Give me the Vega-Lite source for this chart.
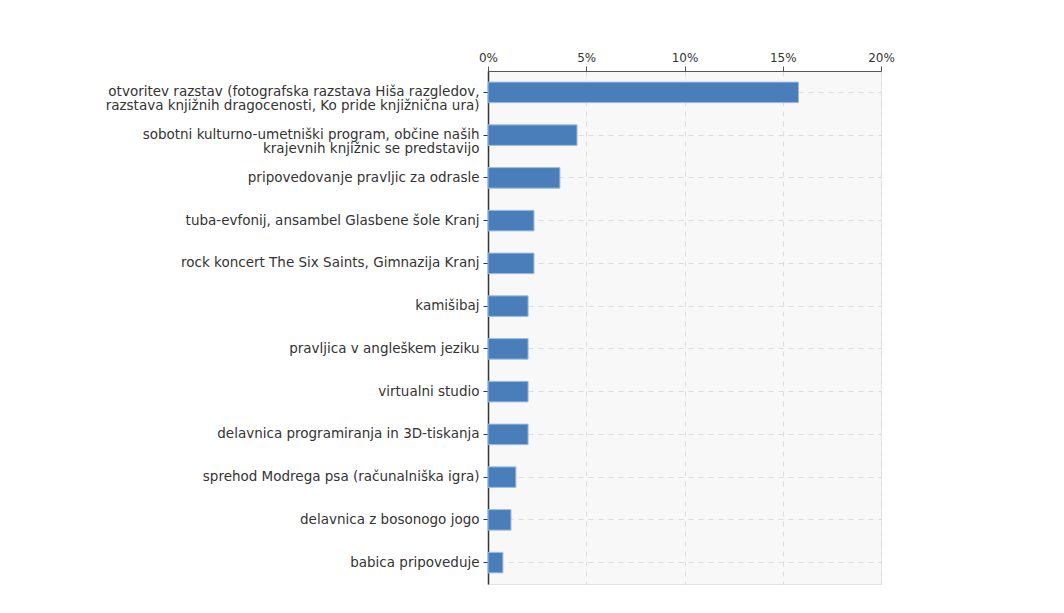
{
  "$schema": "https://vega.github.io/schema/vega-lite/v6.json",
  "autosize": "none",
  "width": 393,
  "height": 513,
  "padding": {"left": 488, "top": 71, "right": 183, "bottom": 29},
  "background": "white",
  "config": {
    "view": {"fill": "#f8f8f8", "stroke": "#e4e4e4", "strokeWidth": 1},
    "font": "DejaVu Sans"
  },
  "data": {
    "values": [
      {"order": 1, "label": "otvoritev razstav (fotografska razstava Hiša razgledov,|razstava knjižnih dragocenosti, Ko pride knjižnična ura)", "value": 0.158},
      {"order": 2, "label": "sobotni kulturno-umetniški program, občine naših|krajevnih knjižnic se predstavijo", "value": 0.0453},
      {"order": 3, "label": "pripovedovanje pravljic za odrasle", "value": 0.0366},
      {"order": 4, "label": "tuba-evfonij, ansambel Glasbene šole Kranj", "value": 0.0234},
      {"order": 5, "label": "rock koncert The Six Saints, Gimnazija Kranj", "value": 0.0234},
      {"order": 6, "label": "kamišibaj", "value": 0.0204},
      {"order": 7, "label": "pravljica v angleškem jeziku", "value": 0.0204},
      {"order": 8, "label": "virtualni studio", "value": 0.0204},
      {"order": 9, "label": "delavnica programiranja in 3D-tiskanja", "value": 0.0204},
      {"order": 10, "label": "sprehod Modrega psa (računalniška igra)", "value": 0.0142},
      {"order": 11, "label": "delavnica z bosonogo jogo", "value": 0.0117},
      {"order": 12, "label": "babica pripoveduje", "value": 0.0076}
    ]
  },
  "mark": {"type": "bar", "color": "#4a7ebb", "stroke": "#9cbde6", "strokeWidth": 1},
  "encoding": {
    "y": {
      "field": "label",
      "type": "nominal",
      "sort": {"field": "order"},
      "scale": {"paddingInner": 0.52, "paddingOuter": 0.26},
      "axis": {
        "title": null,
        "labelExpr": "split(datum.label, '|')",
        "labelLimit": 0,
        "labelFontSize": 13.5,
        "labelColor": "#333333",
        "labelLineHeight": 14,
        "labelPadding": 4,
        "tickSize": 5,
        "tickColor": "#333333",
        "domainColor": "#333333",
        "domainWidth": 1.5,
        "grid": true,
        "gridColor": "#dddddd",
        "gridDash": [5, 5],
        "bandPosition": 0.5
      }
    },
    "x": {
      "field": "value",
      "type": "quantitative",
      "scale": {"domain": [0, 0.2], "nice": false},
      "axis": {
        "orient": "top",
        "title": null,
        "values": [0, 0.05, 0.1, 0.15, 0.2],
        "format": ".0%",
        "labelFlush": false,
        "labelFontSize": 12,
        "labelColor": "#333333",
        "labelPadding": 2,
        "tickSize": 5,
        "tickColor": "#555555",
        "domainColor": "#555555",
        "grid": true,
        "gridColor": "#dddddd",
        "gridDash": [5, 5]
      }
    }
  }
}
